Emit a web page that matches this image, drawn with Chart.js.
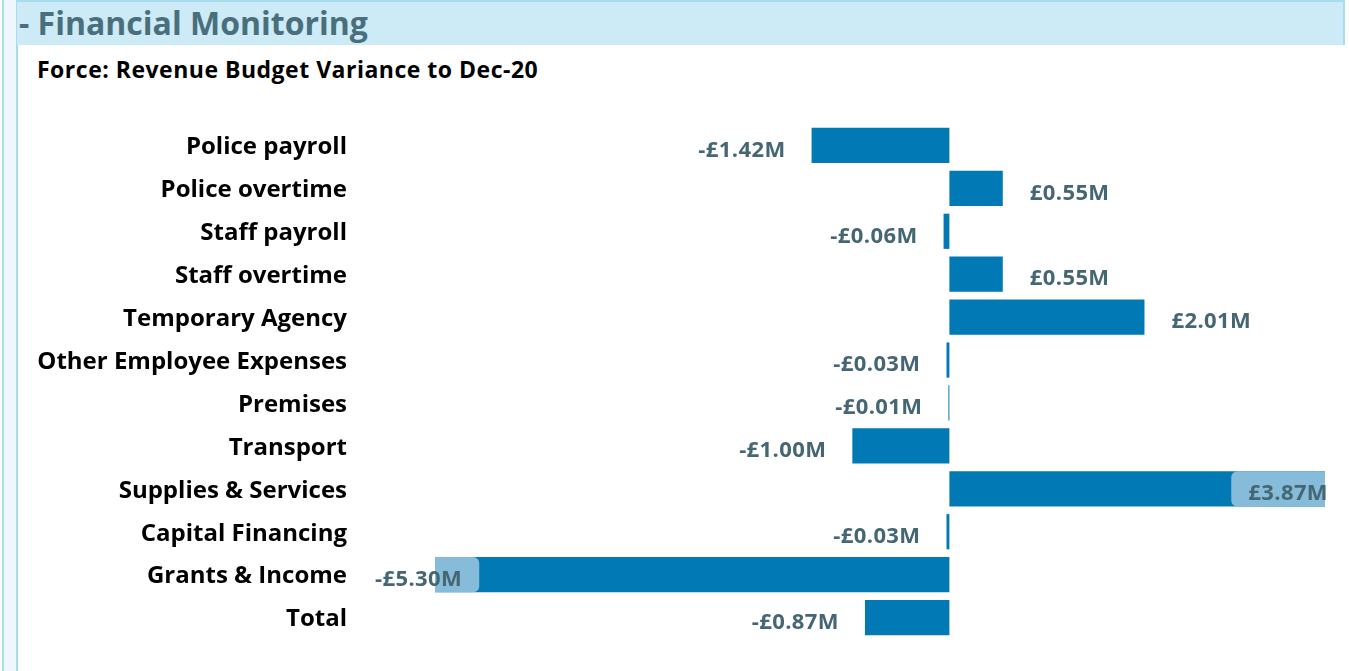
<!DOCTYPE html>
<html>
<head>
<meta charset="utf-8">
<script src="https://cdn.jsdelivr.net/npm/chart.js@4"></script>
<style>
  body { margin: 0; width: 1349px; height: 671px; background: #fff; overflow: hidden; font-family: "Open Sans", "Noto Sans", sans-serif; }
  #strip { position: absolute; left: 2px; top: 0; width: 12px; height: 671px; background: #eef8fc; border-left: 2px solid #a8dcf0; border-right: 2px solid #a8dcf0; }
  #head { position: absolute; left: 17px; top: 0; width: 1328px; height: 45px; background: #cdebf6; border-top: 2px solid #a8dcf0; border-right: 2px solid #a8dcf0; box-sizing: border-box; }
  #head span { position: absolute; left: 2px; top: -1px; font-size: 32px; font-weight: 700; color: #4a6f7c; white-space: nowrap; }
  #sub { position: absolute; left: 37px; top: 53px; font-size: 23px; letter-spacing: 0.5px; font-weight: 700; color: #000; white-space: nowrap; }
  #chart { position: absolute; left: 20px; top: 124px; }
</style>
</head>
<body>
<div id="strip"></div>
<div id="head"><span>- Financial Monitoring</span></div>
<div id="sub">Force: Revenue Budget Variance to Dec-20</div>
<canvas id="chart" width="1329" height="515"></canvas>
<script>
const categories = ["Police payroll", "Police overtime", "Staff payroll", "Staff overtime", "Temporary Agency",
  "Other Employee Expenses", "Premises", "Transport", "Supplies & Services", "Capital Financing",
  "Grants & Income", "Total"];
const variance = [-1.42, 0.55, -0.06, 0.55, 2.01, -0.03, -0.01, -1.00, 3.87, -0.03, -5.30, -0.87];

const fmt = v => (v < 0 ? "-£" : "£") + Math.abs(v).toFixed(2) + "M";

// value labels, pulled inside the canvas with a pale box when they don't fit
const labelPlugin = {
  id: "valueLabels",
  afterDatasetsDraw(chart) {
    const ctx = chart.ctx;
    const meta = chart.getDatasetMeta(0);
    const minX = 355, maxX = 1308;
    ctx.save();
    ctx.font = "700 22px 'Open Sans', 'Noto Sans', sans-serif";
    ctx.letterSpacing = "0.4px";
    ctx.textBaseline = "middle";
    meta.data.forEach((bar, i) => {
      const v = variance[i];
      const txt = fmt(v);
      const w = ctx.measureText(txt).width;
      const y = bar.y + 5;
      const h = bar.height;
      let x0;
      if (v >= 0) {
        x0 = bar.x + 27;
        if (x0 + w > maxX) {
          x0 = maxX - w;
          ctx.fillStyle = "#86bcd9";
          ctx.beginPath();
          ctx.roundRect(x0 - 17, bar.y - h / 2, bar.x - x0 + 17, h, [6, 0, 0, 6]);
          ctx.fill();
        }
      } else {
        let x1 = bar.x - 26;
        if (x1 - w < minX) {
          x1 = minX + w;
          ctx.fillStyle = "#86bcd9";
          ctx.beginPath();
          ctx.roundRect(bar.x, bar.y - h / 2, x1 + 17 - bar.x, h, [0, 6, 6, 0]);
          ctx.fill();
        }
        x0 = x1 - w;
      }
      ctx.fillStyle = "#456774";
      ctx.textAlign = "left";
      ctx.fillText(txt, x0, y);
    });
    ctx.restore();
  }
};

new Chart(document.getElementById("chart"), {
  type: "bar",
  data: {
    labels: categories,
    datasets: [{
      data: variance,
      backgroundColor: "#0179b5",
      barPercentage: 0.82,
      categoryPercentage: 1
    }]
  },
  options: {
    indexAxis: "y",
    responsive: false,
    animation: false,
    layout: { padding: { left: 0, right: 24, top: 0, bottom: 0 } },
    plugins: { legend: { display: false }, tooltip: { enabled: false } },
    scales: {
      x: { display: false, min: -5.30, max: 3.87 },
      y: {
        grid: { display: false, drawTicks: false },
        border: { display: false },
        afterFit(scale) {
          scale.width = 415;
          // tick padding would otherwise also pad top/bottom
          scale.paddingTop = 0;
          scale.paddingBottom = 0;
        },
        ticks: {
          padding: 88,
          labelOffset: 2,
          color: "#000",
          font: { family: "'Open Sans', 'Noto Sans', sans-serif", size: 24, weight: "700" }
        }
      }
    }
  },
  plugins: [labelPlugin]
});
</script>
</body>
</html>
